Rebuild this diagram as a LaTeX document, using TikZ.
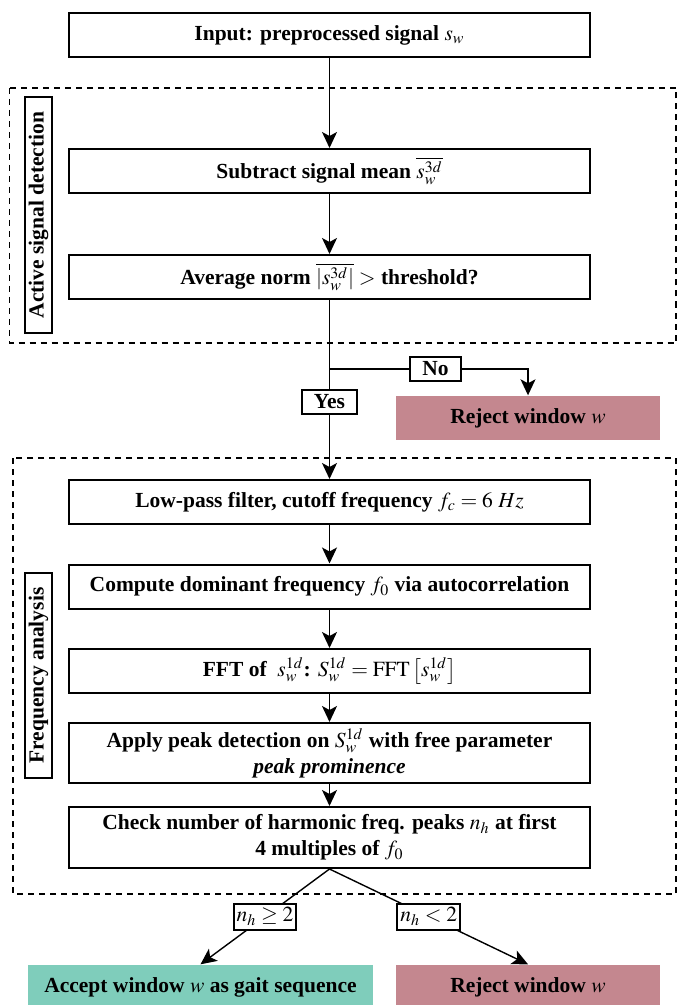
\documentclass[tikz,border=0pt]{standalone}
\usepackage{mathptmx}
\usepackage{fontspec}
\setmainfont{Liberation Serif}
\usepackage{tikz}
\usetikzlibrary{arrows.meta}

\definecolor{acceptgreen}{HTML}{7FCDBB}
\definecolor{rejectred}{HTML}{C4878F}

\begin{document}
\begin{tikzpicture}[x=0.5pt,y=-0.5pt,
  font=\fontsize{10.75}{13}\selectfont\bfseries,line width=0.7pt,
  >={Stealth[length=8pt,width=7.5pt,inset=2pt]},
  block/.style={draw,line width=1pt,minimum width=260.5pt,minimum height=22pt,align=center,inner sep=0pt},
  result/.style={minimum height=22pt,align=center,inner sep=0pt},
  phase/.style={draw,line width=1pt,rotate=90,minimum height=13.5pt,inner sep=0pt},
  region/.style={draw,line width=0.75pt,dash pattern=on 3pt off 2.5pt},
  cond/.style={draw,fill=white,line width=0.9pt,inner xsep=6pt,inner ysep=2.5pt},
  tag/.style={draw,fill=white,line width=0.9pt,inner xsep=1.5pt,inner ysep=2pt}]
\useasboundingbox (0,0) rectangle (677,1005);
\draw[region] (9.5,88) rectangle (676,343);
\draw[region] (13,458) rectangle (676,894);
\node[phase,minimum width=118pt] (activity) at (38.5,215) {Active signal detection};
\node[phase,minimum width=102.5pt] (freqan) at (38.5,675.5) {Frequency analysis};
\node[block] (input) at (329.5,35) {Input: preprocessed signal $s_w$};
\node[block] (mean) at (329.5,171) {Subtract signal mean $\overline{s_w^{3d}}$};
\node[block] (norm) at (329.5,277) {Average norm $\overline{|s_w^{3d}|} >$ threshold?};
\node[result,fill=rejectred,minimum width=132pt] (rejectA) at (528,418) {Reject window $w$};
\node[block] (lowpass) at (329.5,502) {Low-pass filter, cutoff frequency $f_c = 6\ Hz$};
\node[block] (domfreq) at (329.5,586.5) {Compute dominant frequency $f_0$ via autocorrelation};
\node[block] (fft) at (329.5,671) {FFT of~ $s_w^{1d}$: $S_w^{1d} = \mathrm{FFT}\left[s_w^{1d}\right]$};
\node[block,minimum height=30pt] (peaks) at (329.5,753) {Apply peak detection on $S_w^{1d}$ with free parameter\\\textit{peak prominence}};
\node[block,minimum height=30.5pt] (harm) at (329.5,837.5) {Check number of harmonic freq. peaks $n_h$ at first\\4 multiples of $f_0$};
\node[result,fill=acceptgreen,minimum width=172.5pt] (accept) at (200.5,987) {Accept window $w$ as gait sequence};
\node[result,fill=rejectred,minimum width=132pt] (rejectB) at (528,987) {Reject window $w$};
\coordinate (split) at (329.5,369);
\draw[->] (input) -- (mean);
\draw[->] (mean) -- (norm);
\draw (norm) -- (split);
\draw[->] (split) -- node[cond,pos=0.3] (yes) {Yes} (lowpass);
\draw[->] (split) -| node[cond,pos=0.267] (no) {No} (rejectA);
\draw[->] (lowpass) -- (domfreq);
\draw[->] (domfreq) -- (fft);
\draw[->] (fft) -- (peaks);
\draw[->] (peaks) -- (harm);
\draw[->] (harm.south) -- node[tag] (geq) {$n_h \geq 2$} (accept.north);
\draw[->] (harm.south) -- node[tag] (less) {$n_h < 2$} (rejectB.north);
\end{tikzpicture}
\end{document}
